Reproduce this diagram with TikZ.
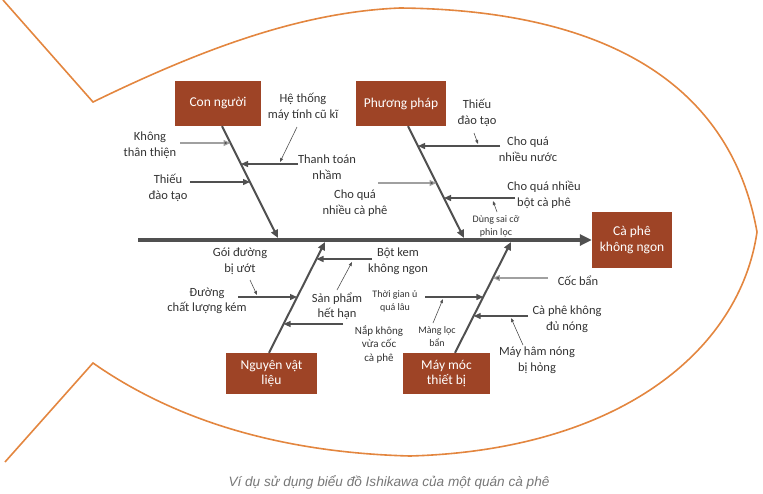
\documentclass[tikz,border=0pt]{standalone}
\usepackage{fontspec}
\setmainfont{Carlito}
\newfontfamily\capfont{Liberation Sans}
\usepackage{tikz}
\usetikzlibrary{calc}
\usetikzlibrary{arrows.meta}

\definecolor{boxred}{HTML}{9E4426}
\definecolor{fishorange}{HTML}{E3863F}
\definecolor{linegray}{HTML}{505050}
\definecolor{palegray}{HTML}{A0A0A0}
\definecolor{textgray}{HTML}{333333}
\definecolor{capgray}{HTML}{777777}

\tikzset{
  cause/.style={fill=boxred, text=white, align=center, inner sep=0pt,
    font=\fontsize{13.5}{15.5}\selectfont},
  lbl/.style={text=textgray, align=center, inner sep=0pt,
    font=\fontsize{12.5}{15.5}\selectfont},
  smalllbl/.style={lbl, font=\fontsize{10}{13}\selectfont},
  bone/.style={draw=linegray, line width=2pt, -{Triangle[length=8pt,width=7pt]}},
  sub/.style={draw=linegray, line width=1.3pt, -{Triangle[length=7pt,width=6pt]}},
  palesub/.style={draw=palegray, line width=1.1pt, -{Triangle[length=7pt,width=6pt,fill=linegray]}},
  note/.style={draw=linegray, line width=.6pt, -{Triangle[length=4pt,width=3pt]}},
}

\begin{document}
\begin{tikzpicture}[x=1pt, y=-1pt]
  \useasboundingbox (0,0) rectangle (763,493);

  % fish outline
  \draw[fishorange, line width=1.6pt, line join=miter]
    (3,0) -- (93,102) .. controls (200,50) and (300,12) .. (400,8)
    .. controls (600,10) and (730,80) .. (757,232)
    .. controls (740,350) and (620,450) .. (410,456)
    .. controls (260,452) and (160,410) .. (93,363) -- (5,462);

  % boxes
  \node[cause, minimum width=86pt, minimum height=45pt] at (218,103.5) (cn) {Con người};
  \node[cause, minimum width=90pt, minimum height=45pt] at (401,103.5) (pp) {Phương pháp};
  \node[cause, minimum width=80pt, minimum height=56pt] at (632,240) (cp) {Cà phê\\không ngon};
  \node[cause, minimum width=91pt, minimum height=41pt] at (271.5,373.5) (nv) {Nguyên vật\\liệu};
  \node[cause, minimum width=87pt, minimum height=41pt] at (446.5,373.5) (mm) {Máy móc\\thiết bị};

  % spine
  \coordinate (tail) at (138,240);
  \draw[draw=linegray, line width=3.5pt, -{Triangle[length=12pt,width=11pt]}] (tail) -- (cp.west);

  % bones
  \coordinate (cnend) at (278,238);
  \coordinate (ppend) at (464,238);
  \coordinate (nvend) at (325,242);
  \coordinate (mmend) at (511,242);
  \draw[bone] ([xshift=4pt]cn.south) -- (cnend);
  \draw[bone] ([xshift=7pt]pp.south) -- (ppend);
  \draw[bone] ([xshift=-2.5pt]nv.north) -- (nvend);
  \draw[bone] ([xshift=8.5pt]mm.north) -- (mmend);

  % Con nguoi
  \node[lbl] at (150,145) (ktl) {Không\\thân thiện};
  \node[lbl] at (168,188) (tdl) {Thiếu\\đào tạo};
  \node[lbl] at (327,167) (ttl) {Thanh toán\\nhầm};
  \node[lbl] at (303,107) (htl) {Hệ thống\\máy tính cũ kĩ};
  \coordinate (kt0) at (180,143);  \coordinate (kt) at (230.5,143);
  \coordinate (td0) at (190,182);  \coordinate (td) at (250,182);
  \coordinate (tt0) at (298,164);  \coordinate (tt) at (241,164);
  \coordinate (ht0) at (297,127);  \coordinate (ht) at (280,162);
  \draw[palesub] (kt0) -- (kt);
  \draw[sub] (td0) -- (td);
  \draw[sub] (tt0) -- (tt);
  \draw[note] (ht0) -- (ht);

  % Phuong phap
  \node[lbl] at (477,113) (pdl) {Thiếu\\đào tạo};
  \node[lbl] at (528,149) (nnl) {Cho quá\\nhiều nước};
  \node[lbl] at (355,203) (ncl) {Cho quá\\nhiều cà phê};
  \node[lbl] at (544,195) (nbl) {Cho quá nhiều\\bột cà phê};
  \node[smalllbl] at (496,226) (dsl) {Dùng sai cỡ\\phin lọc};
  \coordinate (nn0) at (500,146);  \coordinate (nn) at (418,146);
  \coordinate (pd0) at (474,133);  \coordinate (pd) at (478,144);
  \coordinate (nc0) at (378,183);  \coordinate (nc) at (436.5,183);
  \coordinate (nb0) at (515,198);  \coordinate (nb) at (444,198);
  \coordinate (ds0) at (497,212);  \coordinate (ds) at (493,201);
  \draw[sub] (nn0) -- (nn);
  \draw[note] (pd0) -- (pd);
  \draw[palesub] (nc0) -- (nc);
  \draw[sub] (nb0) -- (nb);
  \draw[note] (ds0) -- (ds);

  % Nguyen vat lieu
  \node[lbl] at (240,261) (gdl) {Gói đường\\bị ướt};
  \node[lbl] at (207,301) (dkl) {Đường\\chất lượng kém};
  \node[lbl] at (398,261) (bkl) {Bột kem\\không ngon};
  \node[lbl] at (337,306) (spl) {Sản phẩm\\hết hạn};
  \node[smalllbl, font=\fontsize{11}{13.5}\selectfont] at (379,344) (npl) {Nắp không\\vừa cốc\\cà phê};
  \coordinate (dk0) at (238,297);  \coordinate (dk) at (297,297);
  \coordinate (bk0) at (372,259);  \coordinate (bk) at (316.5,259);
  \coordinate (np0) at (343,324);  \coordinate (np) at (283.6,324);
  \coordinate (gd0) at (250,280);  \coordinate (gd) at (257,295);
  \coordinate (sp0) at (337,290);  \coordinate (sp) at (352,262);
  \draw[sub] (dk0) -- (dk);
  \draw[sub] (bk0) -- (bk);
  \draw[sub] (np0) -- (np);
  \draw[note] (gd0) -- (gd);
  \draw[note] (sp0) -- (sp);

  % May moc thiet bi
  \node[smalllbl] at (395,301) (tgl) {Thời gian ủ\\quá lâu};
  \node[smalllbl] at (437,337) (mll) {Màng lọc\\bẩn};
  \node[lbl] at (578,281) (cbl) {Cốc bẩn};
  \node[lbl] at (567,319) (cnl) {Cà phê không\\đủ nóng};
  \node[lbl] at (537,360) (mhl) {Máy hâm nóng\\bị hỏng};
  \coordinate (tg0) at (425,297);  \coordinate (tg) at (483.3,297);
  \coordinate (cb0) at (548,278);  \coordinate (cb) at (492.9,278);
  \coordinate (kn0) at (528,316);  \coordinate (kn) at (473.7,316);
  \coordinate (ml0) at (433,323);  \coordinate (ml) at (443,299);
  \coordinate (mh0) at (523,345);  \coordinate (mh) at (511,318);
  \draw[sub] (tg0) -- (tg);
  \draw[palesub] (cb0) -- (cb);
  \draw[sub] (kn0) -- (kn);
  \draw[note] (ml0) -- (ml);
  \draw[note] (mh0) -- (mh);

  % caption
  \node[text=capgray, font=\capfont\itshape\fontsize{13.6}{15}\selectfont] at (389,482) (cap)
    {Ví dụ sử dụng biểu đồ Ishikawa của một quán cà phê};
\end{tikzpicture}
\end{document}
